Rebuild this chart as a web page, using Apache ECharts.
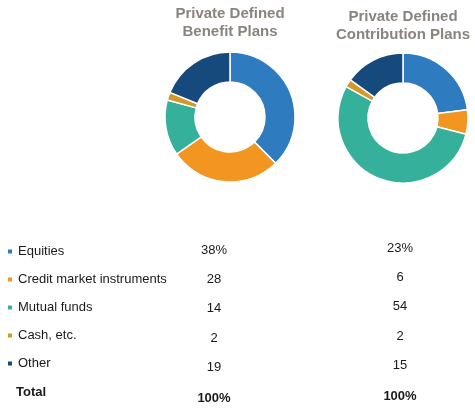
<!DOCTYPE html>
<html lang="en">
<head>
  <meta charset="UTF-8">
  <title>Private plan asset mix</title>
  <script src="https://cdn.jsdelivr.net/npm/echarts@6/dist/echarts.min.js"></script>
  <style>
    html, body { margin: 0; padding: 0; background: #fff; }
    #chart { width: 475px; height: 411px; }
  </style>
</head>
<body>
  <div id="chart"></div>
  <script>
    var categories = ['Equities', 'Credit market instruments', 'Mutual funds', 'Cash, etc.', 'Other'];
    var benefitValues = [38, 28, 14, 2, 19];
    var contributionValues = [23, 6, 54, 2, 15];
    var planTitles = ['Private Defined\nBenefit Plans', 'Private Defined\nContribution Plans'];
    var totalLabel = 'Total';
    var totalText = '100%';
    var colors = ['#2e7bbf', '#f39521', '#35b19b', '#d3992a', '#174a7c'];

    var oChart = echarts.init(document.getElementById('chart'));

    function pieData(values) {
      var out = [];
      for (var i = 0; i < categories.length; i++) {
        out.push({ name: categories[i], value: values[i] });
      }
      return out;
    }

    // value columns of the table
    var rowY = [250, 279, 308, 338, 367];
    var colX = [214, 400];
    var colY = [0, -2];
    var cols = [benefitValues, contributionValues];
    var graphics = [];
    for (var c = 0; c < cols.length; c++) {
      for (var r = 0; r < categories.length; r++) {
        graphics.push({
          type: 'text',
          x: colX[c], y: rowY[r] + colY[c],
          style: {
            text: cols[c][r] + (r === 0 ? '%' : ''),
            align: 'center', verticalAlign: 'middle',
            font: '13px "Liberation Sans", Arial, sans-serif',
            fill: '#1a1a1a'
          }
        });
      }
      graphics.push({
        type: 'text',
        x: colX[c], y: 398 + colY[c],
        style: {
          text: totalText, align: 'center', verticalAlign: 'middle',
          font: 'bold 13px "Liberation Sans", Arial, sans-serif',
          fill: '#1a1a1a'
        }
      });
    }
    graphics.push({
      type: 'text',
      x: 16, y: 392,
      style: {
        text: totalLabel, verticalAlign: 'middle',
        font: 'bold 13px "Liberation Sans", Arial, sans-serif',
        fill: '#1a1a1a'
      }
    });

    var opt = {
      color: colors,
      animation: false,
      title: [
        {
          text: planTitles[0], left: 230, top: 5, textAlign: 'center', padding: 0,
          textStyle: { fontFamily: 'Liberation Sans', fontSize: 15, fontWeight: 'bold', color: '#8a847e', lineHeight: 18 }
        },
        {
          text: planTitles[1], left: 403, top: 8, textAlign: 'center', padding: 0,
          textStyle: { fontFamily: 'Liberation Sans', fontSize: 15, fontWeight: 'bold', color: '#8a847e', lineHeight: 18 }
        }
      ],
      legend: {
        orient: 'vertical',
        left: 6, top: 245,
        padding: 0,
        icon: 'rect',
        itemWidth: 6, itemHeight: 6,
        itemGap: 15,
        data: categories,
        selectedMode: false,
        textStyle: { fontFamily: 'Liberation Sans', fontSize: 13, color: '#1a1a1a', lineHeight: 13 }
      },
      series: [
        {
          name: 'Benefit', type: 'pie',
          center: [230, 117], radius: [35, 65],
          startAngle: 90, clockwise: true,
          label: { show: false }, labelLine: { show: false },
          itemStyle: { borderColor: '#fff', borderWidth: 1.5 },
          data: pieData(benefitValues)
        },
        {
          name: 'Contribution', type: 'pie',
          center: [403, 118], radius: [35, 65],
          startAngle: 90, clockwise: true,
          label: { show: false }, labelLine: { show: false },
          itemStyle: { borderColor: '#fff', borderWidth: 1.5 },
          data: pieData(contributionValues)
        }
      ],
      graphic: graphics
    };

    oChart.setOption(opt);
  </script>
</body>
</html>
